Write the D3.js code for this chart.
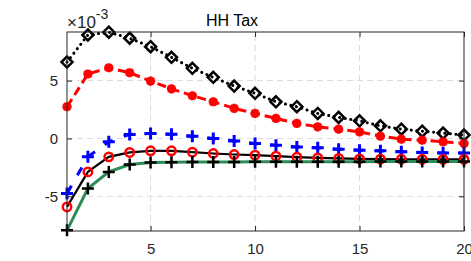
<!DOCTYPE html>
<html>
<head>
<meta charset="utf-8">
<script src="https://cdn.jsdelivr.net/npm/d3@7"></script>
<style>
  body { margin: 0; background: #fff; }
  svg { display: block; font-family: "Liberation Sans", Arial, sans-serif; }
</style>
</head>
<body>
<div id="chart"></div>
<script>
// horizon (quarters)
const periods = d3.range(1, 21);

// responses, in units of 1e-3
const diamondSeries = [6.6, 8.94, 9.18, 8.66, 7.93, 7.01, 6.06, 5.28, 4.53, 3.9,
  3.17, 2.74, 2.16, 1.82, 1.52, 1.09, 0.8, 0.63, 0.46, 0.29];
const starSeries = [2.74, 5.57, 6.11, 5.68, 4.96, 4.29, 3.69, 3.17, 2.6, 2.16,
  1.73, 1.3, 1.0, 0.8, 0.57, 0.2, -0.06, -0.15, -0.29, -0.43];
const bluePlusSeries = [-4.76, -1.59, -0.29, 0.35, 0.43, 0.37, 0.2, 0.0, -0.23, -0.43,
  -0.58, -0.73, -0.81, -0.93, -1.01, -1.07, -1.16, -1.21, -1.25, -1.26];
const circleSeries = [-5.92, -2.89, -1.59, -1.21, -1.07, -1.07, -1.19, -1.3, -1.39, -1.45,
  -1.53, -1.62, -1.68, -1.73, -1.77, -1.79, -1.8, -1.8, -1.81, -1.81];
const greenPlusSeries = [-7.94, -4.33, -2.89, -2.25, -2.08, -2.05, -2.04, -2.03, -2.03, -2.02,
  -2.02, -2.02, -2.01, -2.01, -2.01, -2.0, -2.0, -2.0, -2.0, -2.0];

const xTicks = [5, 10, 15, 20];
const yTicks = [-5, 0, 5];

const width = 471;
const height = 261;
const margin = { top: 32, right: 7, bottom: 30, left: 67 };

const svg = d3.select("#chart").append("svg")
  .attr("width", width)
  .attr("height", height);

const x = d3.scaleLinear().domain([1, 20]).range([margin.left, width - margin.right]);
const y = d3.scaleLinear().domain([-8.0, 9.2]).range([height - margin.bottom, margin.top]);

// grid
svg.append("g")
  .selectAll("line")
  .data(xTicks.slice(0, 3))
  .join("line")
  .attr("x1", (d) => x(d)).attr("x2", (d) => x(d))
  .attr("y1", y.range()[0]).attr("y2", y.range()[1])
  .attr("stroke", "#dcdcdc").attr("stroke-dasharray", "6,4");
svg.append("g")
  .selectAll("line")
  .data(yTicks)
  .join("line")
  .attr("x1", x.range()[0]).attr("x2", x.range()[1])
  .attr("y1", (d) => y(d)).attr("y2", (d) => y(d))
  .attr("stroke", "#dcdcdc").attr("stroke-dasharray", "6,4");

const line = d3.line().x((d, i) => x(periods[i])).y((d) => y(d));

// marker shapes
function diamond(g, s) {
  g.append("path").attr("d", `M0,${-s}L${s},0L0,${s}L${-s},0Z`);
}
function plus(g, s) {
  g.append("path").attr("d", `M${-s},0H${s}M0,${-s}V${s}`);
}
function star(g, s) {
  const d = s * 0.72;
  g.append("path").attr("d", `M${-s},0H${s}M0,${-s}V${s}M${-d},${-d}L${d},${d}M${-d},${d}L${d},${-d}`);
}
function circle(g, s) {
  g.append("circle").attr("r", s);
}

function drawSeries(values, opts) {
  svg.append("path")
    .datum(values)
    .attr("fill", "none")
    .attr("stroke", opts.lineColor)
    .attr("stroke-width", opts.lineWidth)
    .attr("stroke-dasharray", opts.dash || null)
    .attr("stroke-linecap", opts.cap || "butt")
    .attr("d", line);

  svg.append("g")
    .selectAll("g")
    .data(values)
    .join("g")
    .attr("transform", (d, i) => `translate(${x(periods[i])},${y(d)})`)
    .attr("fill", "none")
    .attr("stroke", opts.markerColor)
    .attr("stroke-width", opts.markerWidth)
    .each(function () { opts.marker(d3.select(this), opts.size); });
}

drawSeries(diamondSeries, {
  lineColor: "#000", lineWidth: 3, dash: "0.1,5.5", cap: "round",
  markerColor: "#000", markerWidth: 2.5, marker: diamond, size: 5.5
});
drawSeries(starSeries, {
  lineColor: "#ff0000", lineWidth: 3, dash: "9,5",
  markerColor: "#ff0000", markerWidth: 3, marker: star, size: 4.6
});
drawSeries(bluePlusSeries, {
  lineColor: "#0000ff", lineWidth: 3, dash: "9,12",
  markerColor: "#0000ff", markerWidth: 3, marker: plus, size: 6
});
drawSeries(circleSeries, {
  lineColor: "#000", lineWidth: 2.2,
  markerColor: "#ff0000", markerWidth: 2.5, marker: circle, size: 4.2
});
drawSeries(greenPlusSeries, {
  lineColor: "#2e8b57", lineWidth: 3,
  markerColor: "#000", markerWidth: 2.5, marker: plus, size: 6
});

// axes box with inward ticks
const axisColor = "#262626";
svg.append("rect")
  .attr("x", margin.left).attr("y", margin.top)
  .attr("width", x.range()[1] - margin.left)
  .attr("height", y.range()[0] - margin.top)
  .attr("fill", "none").attr("stroke", axisColor).attr("stroke-width", 1);

svg.append("g")
  .attr("transform", `translate(0,${y.range()[0]})`)
  .call(d3.axisBottom(x).tickValues(xTicks).tickSize(-5).tickPadding(12));
svg.append("g")
  .attr("transform", `translate(${margin.left},0)`)
  .call(d3.axisLeft(y).tickValues(yTicks).tickSize(-5).tickPadding(9)
    .tickFormat((d) => (d < 0 ? "-" + Math.abs(d) : d)));
svg.append("g")
  .attr("transform", `translate(0,${margin.top})`)
  .call(d3.axisTop(x).tickValues(xTicks).tickSize(-5).tickFormat(""));
svg.append("g")
  .attr("transform", `translate(${x.range()[1]},0)`)
  .call(d3.axisRight(y).tickValues(yTicks).tickSize(-5).tickFormat(""));

svg.selectAll(".domain").remove();
svg.selectAll(".tick line").attr("stroke", axisColor);
svg.selectAll(".tick text")
  .attr("fill", axisColor)
  .style("font-size", "15px")
  .style("font-family", "'Liberation Sans', Arial, sans-serif");

// exponent label
const expo = svg.append("text")
  .attr("x", 67).attr("y", 28)
  .attr("fill", axisColor)
  .style("font-size", "17px");
expo.append("tspan").text("×10");
expo.append("tspan").attr("dy", -9).style("font-size", "14px").text("-3");

// title
svg.append("text")
  .attr("x", 232).attr("y", 26)
  .attr("text-anchor", "middle")
  .attr("fill", "#000")
  .style("font-size", "16px")
  .text("HH Tax");
</script>
</body>
</html>
